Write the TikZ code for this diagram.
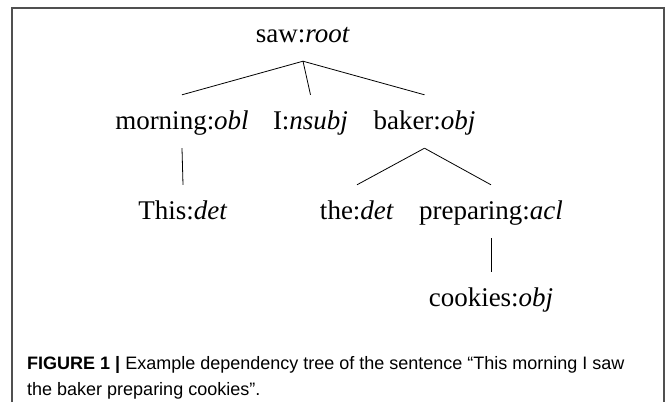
\documentclass[tikz,border=0pt]{standalone}
\usepackage{fontspec}
\setmainfont{Liberation Serif}
\newfontfamily\capfont{Liberation Sans}
\definecolor{framegray}{RGB}{80,80,80}
\begin{document}
\begin{tikzpicture}[x=1pt,y=-1pt,
  word/.style={inner sep=0pt, anchor=base, text height=34pt, text depth=19pt,
               font=\fontsize{27}{30}\selectfont},
  arc/.style={line width=0.8pt, black},
  frameline/.style={line width=1.3pt, framegray}]
  \useasboundingbox (0,0) rectangle (667,402);

  % open frame round the figure
  \draw[frameline] (12,402) -- (12,8) -- (664,8) -- (664,402);

  % dependency tree
  \node[word] (saw)  at (303,42)  {saw:\textit{root}};
  \node[word] (morning) at (182,129) {morning:\textit{obl}};
  \node[word] (I)    at (310.5,129) {I:\textit{nsubj}};
  \node[word] (baker) at (424.5,129) {baker:\textit{obj}};
  \node[word] (this) at (183,219) {This:\textit{det}};
  \node[word] (the)  at (357,219) {the:\textit{det}};
  \node[word] (prep) at (491,219) {preparing:\textit{acl}};
  \node[word] (cookies) at (491,306) {cookies:\textit{obj}};

  \draw[arc] (saw.south) -- (morning.north);
  \draw[arc] (saw.south) -- (I.north);
  \draw[arc] (saw.south) -- (baker.north);
  \draw[arc] (morning.south) -- (this.north);
  \draw[arc] (baker.south) -- (the.north);
  \draw[arc] (baker.south) -- (prep.north);
  \draw[arc] (prep.south) -- (cookies.north);

  % caption (base anchor sits on the last line)
  \node[anchor=base west, inner sep=0pt, align=left,
        font=\capfont\fontsize{18}{26}\selectfont] (caption) at (27,395)
    {\textbf{FIGURE 1 |} Example dependency tree of the sentence “This morning I saw\\
     the baker preparing cookies”.};
\end{tikzpicture}
\end{document}
